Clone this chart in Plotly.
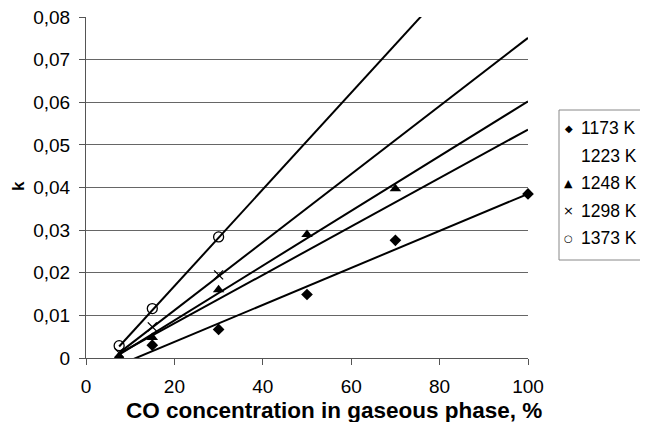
import plotly.graph_objects as go

# ---- data ----
series_names = ["1173 K", "1223 K", "1248 K", "1298 K", "1373 K"]
legend_symbols = ["◆", "", "▲", "×", "○"]

x_1173 = [15, 30, 50, 70, 100]
k_1173 = [0.0030, 0.0067, 0.0149, 0.0276, 0.0385]

x_1223 = [7.5, 15, 30, 50, 70]
k_1223 = [0.0010, 0.0050, 0.0136, 0.0250, 0.0365]

x_1248 = [7.5, 15, 30, 50, 70]
k_1248 = [0.0004, 0.0048, 0.0160, 0.0290, 0.0397]

x_1298 = [7.5, 15, 30]
k_1298 = [0.0012, 0.0073, 0.0195]

x_1373 = [7.5, 15, 30]
k_1373 = [0.0029, 0.0116, 0.0284]

# linear trendlines: start/end points
trend_x0 = [7.5, 7.5, 7.5, 7.5, 7.5]
trend_k0 = [-0.00165, 0.0010, 0.0008, 0.0012, 0.0027]
trend_x1 = [100, 100, 100, 100, 80]
trend_k1 = [0.0385, 0.0536, 0.0602, 0.0751, 0.0849]

y_tickvals = [0, 0.01, 0.02, 0.03, 0.04, 0.05, 0.06, 0.07, 0.08]
y_ticktext = ["0", "0,01", "0,02", "0,03", "0,04", "0,05", "0,06", "0,07", "0,08"]
x_tickvals = [0, 20, 40, 60, 80, 100]

xs = [x_1173, x_1223, x_1248, x_1298, x_1373]
ks = [k_1173, k_1223, k_1248, k_1298, k_1373]

FONT = "Liberation Sans, Arial, sans-serif"

marker_styles = [
    dict(symbol="diamond", size=9, color="black"),
    dict(symbol="circle", size=8, color="rgba(0,0,0,0)"),
    dict(symbol="triangle-up", size=10, color="black"),
    dict(symbol="x-thin-open", size=9, color="black", line=dict(width=1.3, color="black")),
    dict(symbol="circle-open", size=10, color="black", line=dict(width=1.3, color="black")),
]

fig = go.Figure()

# trendlines
for i in range(5):
    fig.add_trace(go.Scatter(
        x=[trend_x0[i], trend_x1[i]], y=[trend_k0[i], trend_k1[i]],
        mode="lines", line=dict(color="black", width=2),
        showlegend=False, hoverinfo="skip"))

for i in range(5):
    fig.add_trace(go.Scatter(
        x=xs[i], y=ks[i], mode="markers", name=series_names[i],
        marker=marker_styles[i], cliponaxis=False, showlegend=False))

# page body adds an 8px offset; keep the figure inside the viewport
W, H = 632, 414
L, T = 78, 9
PW, PH = 442, 341
R = W - L - PW
B = H - T - PH


def px(xp):
    return (xp - L) / PW


def py(yp):
    return (T + PH - yp) / PH


shapes = [dict(type="rect", xref="paper", yref="paper",
               x0=px(551), x1=px(700), y0=py(252), y1=py(102),
               line=dict(color="#888888", width=1), fillcolor="rgba(0,0,0,0)")]

annotations = []
leg_y = [120, 148, 175, 203, 230]
sym_size = [10, 10, 11, 13, 10]
for i in range(5):
    annotations.append(dict(
        x=px(571), y=py(leg_y[i]), xref="paper", yref="paper",
        text=series_names[i], showarrow=False, xanchor="left", yanchor="middle",
        font=dict(size=17.5, family=FONT)))
    if legend_symbols[i]:
        annotations.append(dict(
            x=px(560.5), y=py(leg_y[i]), xref="paper", yref="paper",
            text=legend_symbols[i], showarrow=False, xanchor="center", yanchor="middle",
            font=dict(size=sym_size[i], family="DejaVu Sans")))

annotations.append(dict(
    x=px(326), y=py(402), xref="paper", yref="paper",
    text="<b>CO concentration in gaseous phase, %</b>", showarrow=False,
    xanchor="center", yanchor="middle", font=dict(size=22.5, family=FONT)))
annotations.append(dict(
    x=px(10), y=py(178), xref="paper", yref="paper",
    text="<b>k</b>", showarrow=False, textangle=-90,
    xanchor="center", yanchor="middle", font=dict(size=17, family=FONT)))

fig.update_layout(
    width=W, height=H,
    margin=dict(l=L, r=R, t=T, b=B, autoexpand=False),
    paper_bgcolor="white", plot_bgcolor="white",
    font=dict(family=FONT, size=19, color="black"),
    showlegend=False,
    shapes=shapes, annotations=annotations,
    xaxis=dict(
        range=[0, 100], tickvals=x_tickvals, ticks="outside", ticklen=6,
        tickcolor="#555555", showline=True, linecolor="#555555", linewidth=1,
        showgrid=False, zeroline=False, automargin=False, ticklabelstandoff=5,
    ),
    yaxis=dict(
        range=[0, 0.08], tickvals=y_tickvals, ticktext=y_ticktext,
        ticks="outside", ticklen=6, tickcolor="#555555",
        showline=True, linecolor="#555555", linewidth=1, automargin=False,
        showgrid=True, gridcolor="#666666", gridwidth=1, zeroline=False,
        ticklabelstandoff=5, ticklabeloverflow="allow",
    ),
)

fig.write_html("out.html")
